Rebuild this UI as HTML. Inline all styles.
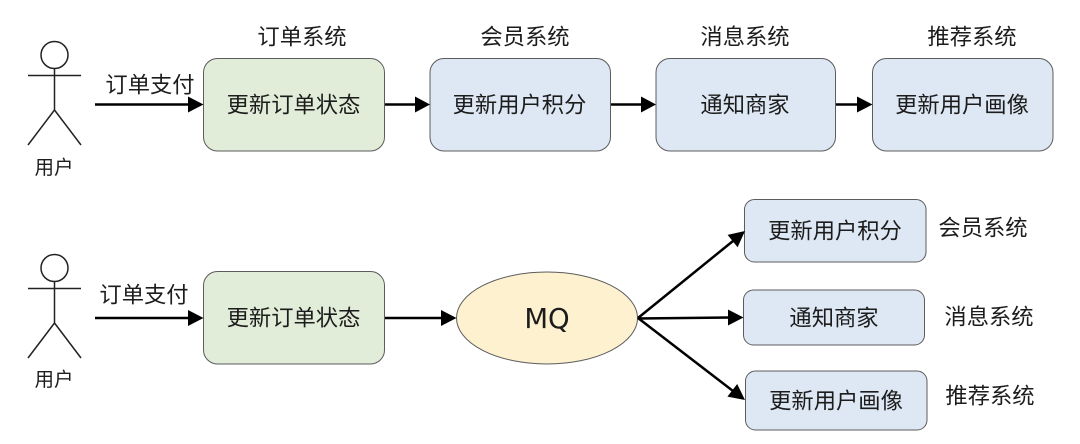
<!DOCTYPE html>
<html><head><meta charset="utf-8"><style>
html,body{margin:0;padding:0;background:#fff;width:1080px;height:444px;overflow:hidden}
svg{display:block}
text{font-family:"Liberation Sans","Noto Sans CJK SC",sans-serif;font-size:22.300px;fill:#1c1c1c;text-anchor:middle;dominant-baseline:central}
.g{fill:#e1edd9;stroke:#5c5c5c;stroke-width:1}
.b{fill:#dee8f4;stroke:#5c5c5c;stroke-width:1}
.l{stroke:#000;stroke-width:2.500;fill:none}
.a{stroke:#222;stroke-width:1.500;fill:none}
</style></head><body>
<svg width="1080" height="444" viewBox="0 0 1080 444" xmlns="http://www.w3.org/2000/svg">
<g class="a">
<circle cx="54.500" cy="55" r="13.500"/><path d="M54.500 68.500V110M28 75.500H81M54.500 110L28 145M54.500 110L81 145"/>
<circle cx="54.500" cy="268" r="13.500"/><path d="M54.500 281.500V323M28 288.500H81M54.500 323L28 358M54.500 323L81 358"/>
</g>
<rect class="g" x="203.500" y="58.500" width="181" height="92.500" rx="14"/>
<rect class="b" x="430" y="58.500" width="180.500" height="92.500" rx="14"/>
<rect class="b" x="656" y="58.500" width="179.500" height="92.500" rx="14"/>
<rect class="b" x="872.500" y="58.500" width="180.500" height="92.500" rx="14"/>
<rect class="g" x="203.500" y="271.500" width="181" height="92.500" rx="14"/>
<ellipse cx="547" cy="318" rx="90.500" ry="46" fill="#fdf1cf" stroke="#5c5c5c"/>
<rect class="b" x="744.500" y="199.500" width="181.500" height="62.500" rx="10"/>
<rect class="b" x="743.500" y="290" width="181" height="55" rx="10"/>
<rect class="b" x="745.500" y="371" width="181.500" height="59" rx="10"/>
<g class="l">
<path d="M95 104.500H190M385 104.500H417M611 104.500H643M836 104.500H859"/>
<path d="M95 318H190M385 318H443M638 318L733 241M638 318.500L730 317.500M638 318L733 391"/>
</g>
<g fill="#000">
<path d="M203.500 104.500L188 96.500V112.500Z"/>
<path d="M430 104.500L415 96.500V112.500Z"/>
<path d="M656 104.500L641 96.500V112.500Z"/>
<path d="M872.500 104.500L857 96.500V112.500Z"/>
<path d="M203.500 318L188 310V326Z"/>
<path d="M456.500 318L441 310V326Z"/>
<path d="M745 231L727.600 234.900L737.600 247.300Z"/>
<path d="M743.500 317.500L728 309.500V325.500Z"/>
<path d="M745 400L737.200 384L727.400 396.600Z"/>
</g>
<text x="302" y="37">订单系统</text>
<text x="525" y="37">会员系统</text>
<text x="745" y="37">消息系统</text>
<text x="972" y="37">推荐系统</text>
<text x="150" y="85">订单支付</text>
<text x="144" y="295">订单支付</text>
<text x="54" y="168" style="font-size:19.500px">用户</text>
<text x="54" y="380" style="font-size:19.500px">用户</text>
<text x="293.500" y="105">更新订单状态</text>
<text x="519.500" y="105">更新用户积分</text>
<text x="745" y="105">通知商家</text>
<text x="962" y="105">更新用户画像</text>
<text x="293.500" y="318">更新订单状态</text>
<text x="547" y="319" style="font-size:27.500px;font-family:'DejaVu Sans',sans-serif">MQ</text>
<text x="835" y="231">更新用户积分</text>
<text x="834" y="318">通知商家</text>
<text x="836" y="401">更新用户画像</text>
<text x="983" y="228">会员系统</text>
<text x="989" y="317">消息系统</text>
<text x="990" y="396">推荐系统</text>
</svg>
</body></html>
